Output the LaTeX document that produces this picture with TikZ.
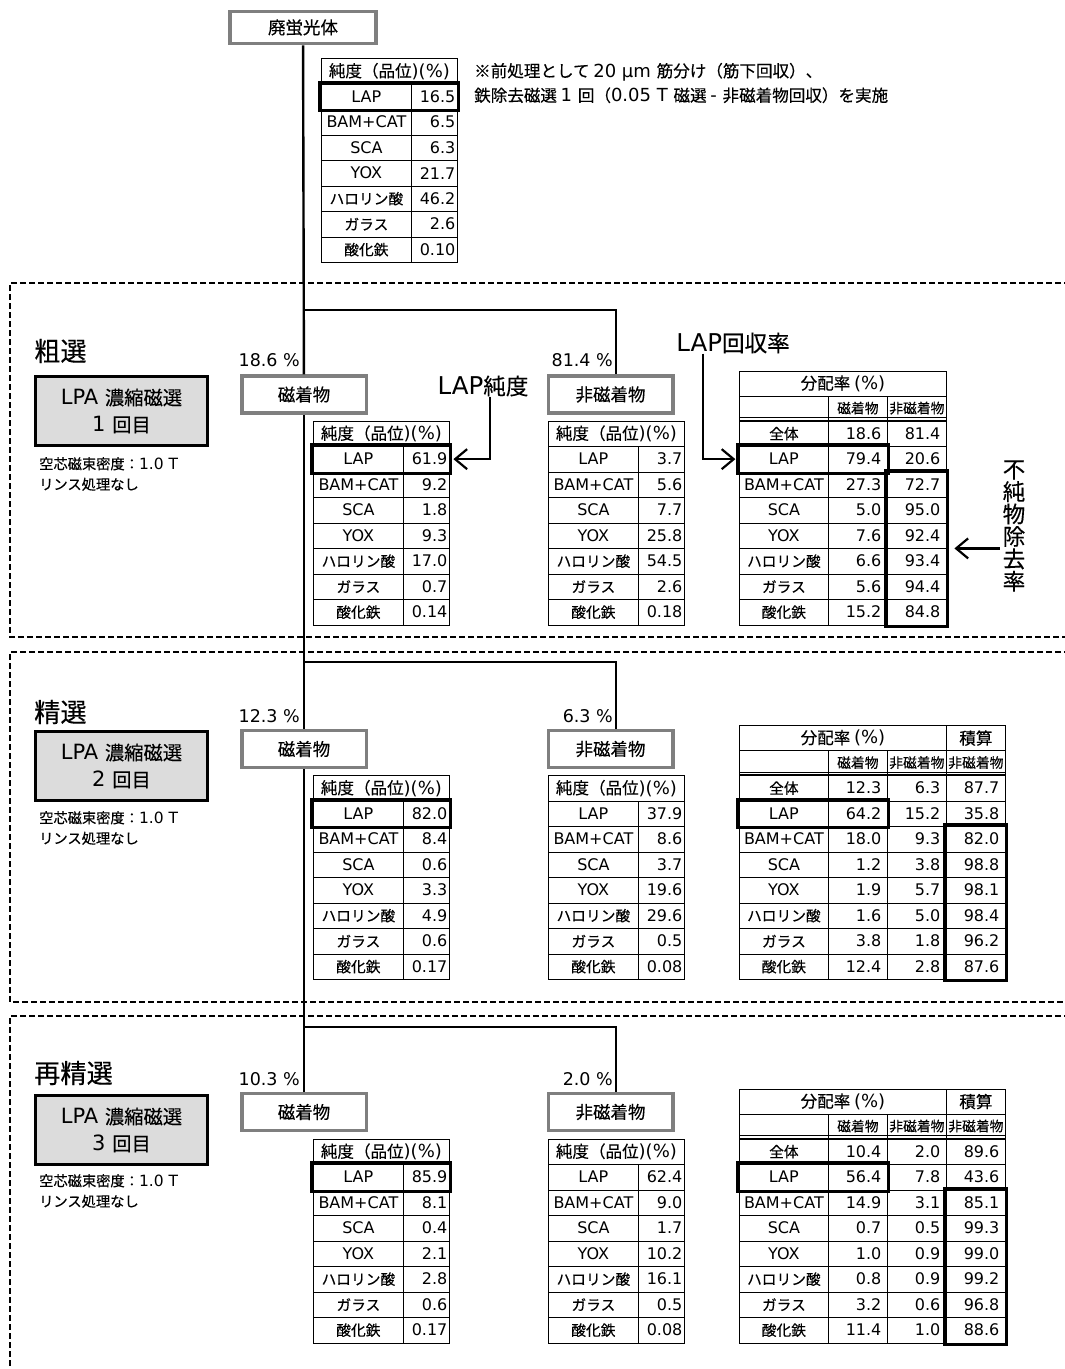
\documentclass[tikz,border=0pt]{standalone}
\usepackage{fontspec}
\setmainfont{DejaVu Sans}
\newfontfamily\ltfont{DejaVu Sans}
\newfontfamily\jpfont[Scale=0.92, FakeBold=0.3]{Noto Sans CJK JP}
\usetikzlibrary{arrows.meta,positioning,calc,fit}

% Japanese characters are switched to the CJK font automatically
\newXeTeXintercharclass\jpclass
\makeatletter
\count@="3000
\loop\ifnum\count@<"A000
  \XeTeXcharclass\count@=\jpclass
  \advance\count@ by 1
\repeat
\count@="FF00
\loop\ifnum\count@<"FFF0
  \XeTeXcharclass\count@=\jpclass
  \advance\count@ by 1
\repeat
\makeatother
\XeTeXcharclass"203B=\jpclass
\XeTeXinterchartoks 0 \jpclass = {\jpfont}
\XeTeXinterchartoks 4095 \jpclass = {\jpfont}
\XeTeXinterchartoks \jpclass 0 = {\ltfont}
\XeTeXinterchartoks 4095 0 = {\ltfont}
\XeTeXinterchartokenstate=1

\definecolor{boxgray}{HTML}{7F7F7F}
\definecolor{procfill}{HTML}{DCDCDC}

\newcommand{\celltext}{\fontsize{16}{19}\selectfont}
\newcommand{\subtext}{\fontsize{15}{17}\selectfont}
\newcommand{\headtext}{\fontsize{18}{21}\selectfont}
\newcommand{\pcttext}{\fontsize{17.5}{21}\selectfont}
\newcommand{\titletext}{\fontsize{28.5}{34}\selectfont}
\newcommand{\calltext}{\fontsize{24.5}{22.4}\selectfont}
\newcommand{\notetext}{\fontsize{18}{24.5}\selectfont}
\newcommand{\condtext}{\fontsize{15.5}{20.5}\selectfont}

\tikzset{
  flow/.style={line width=2.4pt},
  stageline/.style={line width=2pt, dash pattern=on 6pt off 3pt},
  procbox/.style={draw, line width=3.5pt, fill=procfill, minimum width=172pt, minimum height=69pt, inner sep=0pt, align=center, font=\fontsize{21}{27}\selectfont},
  prodbox/.style={draw=boxgray, line width=3.5pt, fill=white, minimum width=124.5pt, minimum height=37pt, inner sep=0pt, font=\fontsize{19}{22}\selectfont},
  cell/.style={draw, line width=0.8pt, inner sep=0pt, minimum height=25.5pt, anchor=north west, font=\celltext},
  lcell/.style={cell, minimum width=90pt},
  vcell/.style={cell, inner xsep=2pt, text width=42pt, align=right},
  dlcell/.style={cell, minimum width=89pt},
  dvcell/.style={cell, inner xsep=6pt, text width=47pt, align=right},
  dhcell/.style={cell, minimum width=59pt, minimum height=24pt, anchor=south west, font=\subtext},
  rule/.style={line width=0.8pt},
  hl/.style={draw, line width=3.2pt, inner sep=1pt},
  callout/.style={line width=2.2pt, -{Straight Barb[length=12pt,width=20pt]}},
  pct/.style={anchor=base east, font=\pcttext, inner sep=0pt},
}

\newcommand{\rowlabels}{LAP,BAM+CAT,SCA,YOX,ハロリン酸,ガラス,酸化鉄}
\newcommand{\puritytab}[4]{%
  \node[cell, minimum width=136pt, font=\headtext] (#1h) at (#2,#3) {純度（品位)(\%)};
  \foreach \lbl [count=\i] in \rowlabels
    \node[lcell] (#1l\i) at (#2,{#3+\i*25.5}) {\lbl};
  \foreach \val [count=\i] in {#4}
    \node[vcell] (#1v\i) at ({#2+90},{#3+\i*25.5}) {\val};
}

\begin{document}
\begin{tikzpicture}[x=1pt, y=-1pt]
  \useasboundingbox (0,0) rectangle (1065,1369);
  \clip (0,0) rectangle (1065,1369);

  \draw[stageline] (1070,283) -- (10,283) -- (10,637) -- (1070,637);
  \draw[stageline] (1070,652) -- (10,652) -- (10,1002) -- (1070,1002);
  \draw[stageline] (1070,1016) -- (10,1016) -- (10,1380);

  \node[prodbox, minimum width=146pt, minimum height=32pt] (feed) at (303,27.5) {廃蛍光体};
  \puritytab{f}{321}{58}{16.5,6.5,6.3,21.7,46.2,2.6,0.10}
  \node[hl, fit=(fl1)(fv1)] (lapf) {};
  \node[anchor=west, align=left, font=\notetext, inner sep=0pt] (note) at (474,83) {※前処理として 20 µm 筋分け（筋下回収）、\\鉄除去磁選 1 回（0.05 T 磁選 - 非磁着物回収）を実施};

  \node[anchor=west, font=\titletext, inner sep=0pt] (t1) at (34,351) {粗選};
  \node[procbox] (p1) at (121.5,411) {LPA 濃縮磁選\\1 回目};
  \node[anchor=north west, align=left, font=\condtext, inner sep=0pt] (c1) at (39,457) {空芯磁束密度：1.0 T\\リンス処理なし};
  \node[prodbox] (mag1) at (304,394.5) {磁着物};
  \node[prodbox] (non1) at (610.5,394.5) {非磁着物};
  \coordinate (sp1) at (303,310);
  \coordinate (dn1) at (616,310);
  \draw[flow] (feed) -- (mag1);
  \draw[flow] (sp1) -- (dn1) -- (dn1 |- non1.north);
  \node[pct] (pm1) at (300,366) {18.6 \%};
  \node[pct] (pn1) at (613,366) {81.4 \%};
  \puritytab{m1}{313}{420.5}{61.9,9.2,1.8,9.3,17.0,0.7,0.14}
  \node[hl, fit=(m1l1)(m1v1)] (lapm1) {};
  \puritytab{n1}{548}{420.5}{3.7,5.6,7.7,25.8,54.5,2.6,0.18}
  \node[cell, minimum width=207pt, minimum height=25pt, anchor=south west, font=\headtext] (d1h) at (739,396.5) {分配率 (\%)};
  \node[dlcell, minimum height=24pt, anchor=south west] (d1s0) at (739,420.5) {};
  \node[dhcell] (d1s1) at (828,420.5) {磁着物};
  \node[dhcell] (d1s2) at (887,420.5) {非磁着物};
  \foreach \lbl/\a/\b [count=\i from 0] in {全体/18.6/81.4, LAP/79.4/20.6, BAM+CAT/27.3/72.7, SCA/5.0/95.0, YOX/7.6/92.4, ハロリン酸/6.6/93.4, ガラス/5.6/94.4, 酸化鉄/15.2/84.8}{
    \node[dlcell] (d1l\i) at (739,{420.5+\i*25.5}) {\lbl};
    \node[dvcell] (d1a\i) at (828,{420.5+\i*25.5}) {\a};
    \node[dvcell] (d1b\i) at (887,{420.5+\i*25.5}) {\b};
  }
  \draw[rule] ([yshift=3pt]d1l0.north west) -- ([yshift=3pt]d1b0.north east);
  \node[hl, fit=(d1l1)(d1a1)] (rec1) {};
  \node[hl, fit=(d1b2)(d1b7)] (imp1) {};
  \node[font=\calltext, inner sep=0pt] (lappur) at (483,386) {LAP純度};
  \draw[callout] ([xshift=7pt]lappur.south) |- ([xshift=1pt]lapm1.east);
  \node[font=\calltext, inner sep=0pt] (laprec) at (733,343) {LAP回収率};
  \draw[callout] ([xshift=-30pt]laprec.south) |- ([xshift=-1pt]rec1.west);
  \node[font=\calltext, align=center, inner sep=0pt] (imptxt) at (1014,526) {不\\純\\物\\除\\去\\率};
  \draw[callout] ([xshift=-3pt]imptxt.west |- imp1.east) -- ([xshift=5pt]imp1.east);

  \node[anchor=west, font=\titletext, inner sep=0pt] (t2) at (34,712) {精選};
  \node[procbox] (p2) at (121.5,766) {LPA 濃縮磁選\\2 回目};
  \node[anchor=north west, align=left, font=\condtext, inner sep=0pt] (c2) at (39,811) {空芯磁束密度：1.0 T\\リンス処理なし};
  \node[prodbox] (mag2) at (304,749) {磁着物};
  \node[prodbox] (non2) at (610.5,749) {非磁着物};
  \coordinate (sp2) at (303,662);
  \coordinate (dn2) at (616,662);
  \draw[flow] (mag1) -- (mag2);
  \draw[flow] (sp2) -- (dn2) -- (dn2 |- non2.north);
  \node[pct] (pm2) at (300,722) {12.3 \%};
  \node[pct] (pn2) at (613,722) {6.3 \%};
  \puritytab{m2}{313}{775}{82.0,8.4,0.6,3.3,4.9,0.6,0.17}
  \node[hl, fit=(m2l1)(m2v1)] (lapm2) {};
  \puritytab{n2}{548}{775}{37.9,8.6,3.7,19.6,29.6,0.5,0.08}
  \node[cell, minimum width=207pt, minimum height=25pt, anchor=south west, font=\headtext] (d2h) at (739,751) {分配率 (\%)};
  \node[cell, minimum width=59pt, minimum height=25pt, anchor=south west, font=\headtext] (d2k) at (946,751) {積算};
  \node[dlcell, minimum height=24pt, anchor=south west] (d2s0) at (739,775) {};
  \node[dhcell] (d2s1) at (828,775) {磁着物};
  \node[dhcell] (d2s2) at (887,775) {非磁着物};
  \node[dhcell] (d2s3) at (946,775) {非磁着物};
  \foreach \lbl/\a/\b/\c [count=\i from 0] in {全体/12.3/6.3/87.7, LAP/64.2/15.2/35.8, BAM+CAT/18.0/9.3/82.0, SCA/1.2/3.8/98.8, YOX/1.9/5.7/98.1, ハロリン酸/1.6/5.0/98.4, ガラス/3.8/1.8/96.2, 酸化鉄/12.4/2.8/87.6}{
    \node[dlcell] (d2l\i) at (739,{775+\i*25.5}) {\lbl};
    \node[dvcell] (d2a\i) at (828,{775+\i*25.5}) {\a};
    \node[dvcell] (d2b\i) at (887,{775+\i*25.5}) {\b};
    \node[dvcell] (d2c\i) at (946,{775+\i*25.5}) {\c};
  }
  \draw[rule] ([yshift=3pt]d2l0.north west) -- ([yshift=3pt]d2c0.north east);
  \node[hl, fit=(d2l1)(d2a1)] (rec2) {};
  \node[hl, fit=(d2c2)(d2c7)] (imp2) {};

  \node[anchor=west, font=\titletext, inner sep=0pt] (t3) at (34,1073) {再精選};
  \node[procbox] (p3) at (121.5,1130) {LPA 濃縮磁選\\3 回目};
  \node[anchor=north west, align=left, font=\condtext, inner sep=0pt] (c3) at (39,1174) {空芯磁束密度：1.0 T\\リンス処理なし};
  \node[prodbox] (mag3) at (304,1112) {磁着物};
  \node[prodbox] (non3) at (610.5,1112) {非磁着物};
  \coordinate (sp3) at (303,1027);
  \coordinate (dn3) at (616,1027);
  \draw[flow] (mag2) -- (mag3);
  \draw[flow] (sp3) -- (dn3) -- (dn3 |- non3.north);
  \node[pct] (pm3) at (300,1085) {10.3 \%};
  \node[pct] (pn3) at (613,1085) {2.0 \%};
  \puritytab{m3}{313}{1138.5}{85.9,8.1,0.4,2.1,2.8,0.6,0.17}
  \node[hl, fit=(m3l1)(m3v1)] (lapm3) {};
  \puritytab{n3}{548}{1138.5}{62.4,9.0,1.7,10.2,16.1,0.5,0.08}
  \node[cell, minimum width=207pt, minimum height=25pt, anchor=south west, font=\headtext] (d3h) at (739,1114.5) {分配率 (\%)};
  \node[cell, minimum width=59pt, minimum height=25pt, anchor=south west, font=\headtext] (d3k) at (946,1114.5) {積算};
  \node[dlcell, minimum height=24pt, anchor=south west] (d3s0) at (739,1138.5) {};
  \node[dhcell] (d3s1) at (828,1138.5) {磁着物};
  \node[dhcell] (d3s2) at (887,1138.5) {非磁着物};
  \node[dhcell] (d3s3) at (946,1138.5) {非磁着物};
  \foreach \lbl/\a/\b/\c [count=\i from 0] in {全体/10.4/2.0/89.6, LAP/56.4/7.8/43.6, BAM+CAT/14.9/3.1/85.1, SCA/0.7/0.5/99.3, YOX/1.0/0.9/99.0, ハロリン酸/0.8/0.9/99.2, ガラス/3.2/0.6/96.8, 酸化鉄/11.4/1.0/88.6}{
    \node[dlcell] (d3l\i) at (739,{1138.5+\i*25.5}) {\lbl};
    \node[dvcell] (d3a\i) at (828,{1138.5+\i*25.5}) {\a};
    \node[dvcell] (d3b\i) at (887,{1138.5+\i*25.5}) {\b};
    \node[dvcell] (d3c\i) at (946,{1138.5+\i*25.5}) {\c};
  }
  \draw[rule] ([yshift=3pt]d3l0.north west) -- ([yshift=3pt]d3c0.north east);
  \node[hl, fit=(d3l1)(d3a1)] (rec3) {};
  \node[hl, fit=(d3c2)(d3c7)] (imp3) {};
\end{tikzpicture}
\end{document}
